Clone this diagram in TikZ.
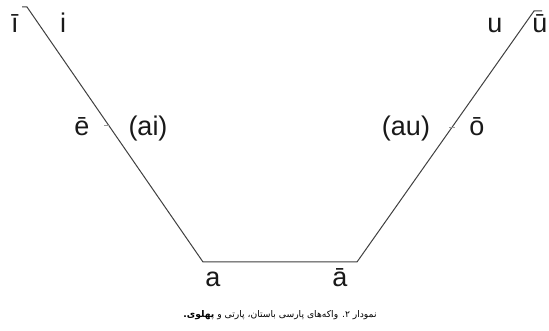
\documentclass[tikz,border=0pt]{standalone}
\usepackage{fontspec}
\setmainfont{Liberation Sans}
\newfontfamily\arabicfont[Script=Arabic]{DejaVu Sans}
\TeXXeTstate=1
\begin{document}
\begin{tikzpicture}[x=1pt,y=-1pt,
  lbl/.style={anchor=base,inner sep=0pt,text=black!90,font=\fontsize{27}{30}\selectfont},
  captext/.style={anchor=base,inner sep=0pt,text=black,font=\arabicfont\fontsize{9.2}{11}\selectfont},
  edge/.style={draw=black!75,line width=1pt},
  tickline/.style={draw=black!40,line width=0.9pt}]
\useasboundingbox[fill=white] (0,0) rectangle (549,331);
% corners
\coordinate (lt0) at (22,7);
\coordinate (lt) at (27,7);
\coordinate (lb) at (203,262);
\coordinate (rb) at (357,262);
\coordinate (rt) at (534,11);
\coordinate (rt0) at (542,11);
\coordinate (lk1) at (104,125);
\coordinate (lk2) at (110,125);
\coordinate (rk1) at (449,127);
\coordinate (rk2) at (455,127);
\draw[edge] (lt0) -- (lt) -- (lb) -- (rb) -- (rt) -- (rt0);
\draw[tickline] (lk1) -- (lk2);
\draw[tickline] (rk1) -- (rk2);
% labels
\node[lbl] (ibar) at (15,33) {ī};
\node[lbl] (i) at (63,33) {i};
\node[lbl] (u) at (495,33) {u};
\node[lbl] (ubar) at (540,33) {ū};
\node[lbl] (ebar) at (82,136) {ē};
\node[lbl] (ai) at (148,136) {(ai)};
\node[lbl] (au) at (406,136) {(au)};
\node[lbl] (obar) at (477,136) {ō};
\node[lbl] (a) at (213,287) {a};
\node[lbl] (abar) at (340,287) {ā};
\node[captext] (caption) at (280,317) {\beginR نمودار ۲. واکه‌های پارسی باستان، پارتی و {\bfseries پهلوی.}\endR};
\end{tikzpicture}
\end{document}
